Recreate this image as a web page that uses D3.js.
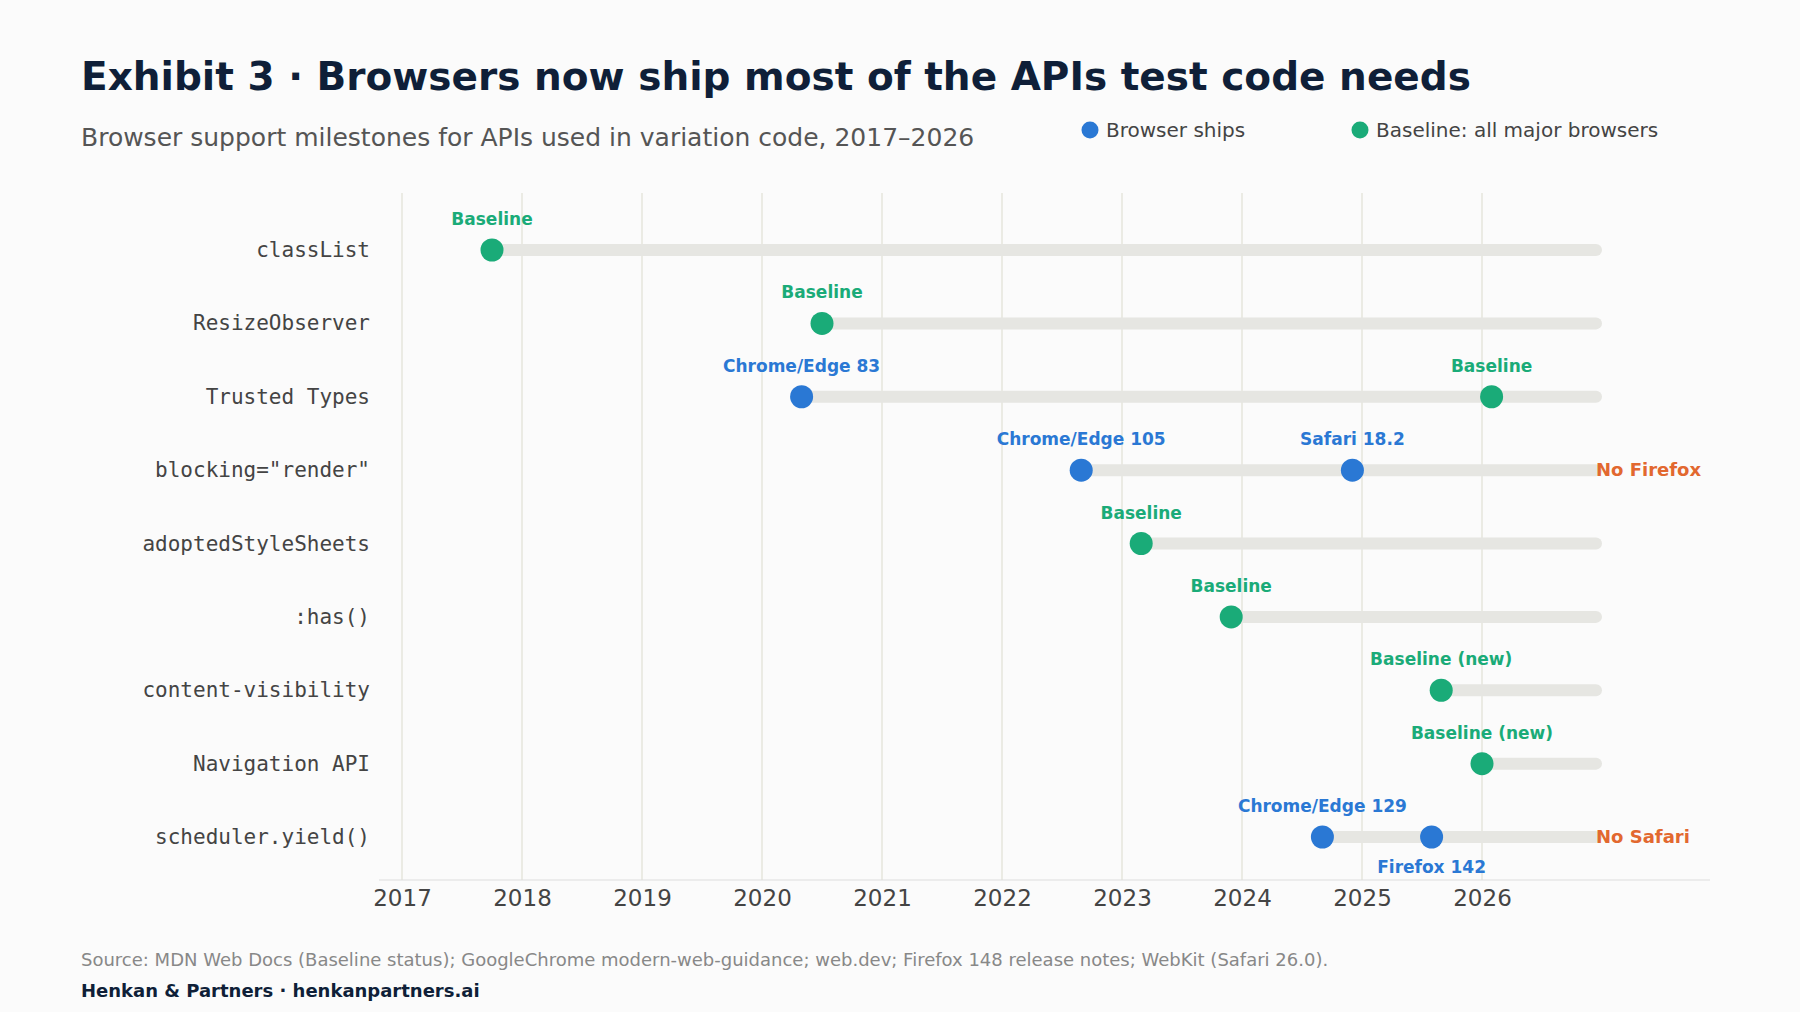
<!DOCTYPE html>
<html><head><meta charset="utf-8">
<script src="https://cdn.jsdelivr.net/npm/d3@7"></script>
<style>body{margin:0;background:#fbfbfb}</style></head>
<body><svg id="c" width="1800" height="1012"></svg>
<script>
const apis = ["classList","ResizeObserver","Trusted Types","blocking=\"render\"","adoptedStyleSheets",":has()","content-visibility","Navigation API","scheduler.yield()"];
// milestones: [api, year, type, label, labelPos]
const milestones = [
 ["classList",2017.75,"base","Baseline","above"],
 ["ResizeObserver",2020.5,"base","Baseline","above"],
 ["Trusted Types",2020.33,"ship","Chrome/Edge 83","above"],
 ["Trusted Types",2026.08,"base","Baseline","above"],
 ["blocking=\"render\"",2022.66,"ship","Chrome/Edge 105","above"],
 ["blocking=\"render\"",2024.92,"ship","Safari 18.2","above"],
 ["adoptedStyleSheets",2023.16,"base","Baseline","above"],
 [":has()",2023.91,"base","Baseline","above"],
 ["content-visibility",2025.66,"base","Baseline (new)","above"],
 ["Navigation API",2026.0,"base","Baseline (new)","above"],
 ["scheduler.yield()",2024.67,"ship","Chrome/Edge 129","above"],
 ["scheduler.yield()",2025.58,"ship","Firefox 142","below"]
];
const gaps = [["blocking=\"render\"","No Firefox"],["scheduler.yield()","No Safari"]];
const years = [2017,2018,2019,2020,2021,2022,2023,2024,2025,2026];
const barEnd = 2026.95;
const colors = {ship:"#2a78d4", base:"#1aab78"};

const svg = d3.select("#c");
const x = d3.scaleLinear().domain([2017,2026]).range([402,1482]);
const y = d3.scalePoint().domain(apis).range([250,837]);
const sans = "DejaVu Sans, sans-serif";

svg.append("text").attr("x",81).attr("y",90).attr("font-family",sans).attr("font-weight","bold").attr("font-size",39).attr("fill","#0f1f38").text("Exhibit 3 · Browsers now ship most of the APIs test code needs");
svg.append("text").attr("x",81).attr("y",146).attr("font-family",sans).attr("font-size",25).attr("fill","#555").text("Browser support milestones for APIs used in variation code, 2017–2026");
[["ship","Browser ships",1090],["base","Baseline: all major browsers",1360]].forEach(([k,t,lx])=>{
  svg.append("circle").attr("cx",lx).attr("cy",130).attr("r",8.5).attr("fill",colors[k]);
  svg.append("text").attr("x",lx+16).attr("y",137).attr("font-family",sans).attr("font-size",20).attr("fill","#444").text(t);
});

// grid
svg.selectAll(".g").data(years).join("line").attr("x1",d=>x(d)).attr("x2",d=>x(d)).attr("y1",193).attr("y2",880).attr("stroke","#e6e6dc").attr("stroke-width",1.5);
// axis
const ax = svg.append("g").attr("transform","translate(0,880)").call(d3.axisBottom(x).tickValues(years).tickFormat(d3.format("d")).tickSize(0).tickPadding(10));
ax.select(".domain").attr("d","M379,0H1710").attr("stroke","#ddd");
ax.selectAll("text").attr("font-family",sans).attr("font-size",23).attr("fill","#444");

// row labels
svg.selectAll(".rl").data(apis).join("text").attr("x",370).attr("y",d=>y(d)+7).attr("text-anchor","end").attr("font-family","DejaVu Sans Mono, monospace").attr("font-size",21).attr("fill","#444").text(d=>d);

// bars
const starts = apis.map(a=>[a,d3.min(milestones.filter(m=>m[0]===a),m=>m[1])]);
svg.selectAll(".bar").data(starts).join("line").attr("x1",d=>x(d[1])).attr("x2",x(barEnd)).attr("y1",d=>y(d[0])).attr("y2",d=>y(d[0])).attr("stroke","#e6e6e2").attr("stroke-width",12).attr("stroke-linecap","round");

// points
svg.selectAll(".pt").data(milestones).join("circle").attr("cx",d=>x(d[1])).attr("cy",d=>y(d[0])).attr("r",11.5).attr("fill",d=>colors[d[2]]);
svg.selectAll(".pl").data(milestones).join("text").attr("x",d=>x(d[1])).attr("y",d=>y(d[0])+(d[4]==="above"?-25:36)).attr("text-anchor","middle").attr("font-family",sans).attr("font-weight","bold").attr("font-size",17).attr("fill",d=>colors[d[2]]).text(d=>d[3]);

// gaps
svg.selectAll(".gap").data(gaps).join("text").attr("x",x(barEnd)).attr("y",d=>y(d[0])+6).attr("font-family",sans).attr("font-weight","bold").attr("font-size",18).attr("fill","#e2682f").text(d=>d[1]);

svg.append("text").attr("x",81).attr("y",966).attr("font-family",sans).attr("font-size",18).attr("fill","#888").text("Source: MDN Web Docs (Baseline status); GoogleChrome modern-web-guidance; web.dev; Firefox 148 release notes; WebKit (Safari 26.0).");
svg.append("text").attr("x",81).attr("y",997).attr("font-family",sans).attr("font-weight","bold").attr("font-size",18).attr("fill","#0f1f38").text("Henkan & Partners · henkanpartners.ai");
</script></body></html>
